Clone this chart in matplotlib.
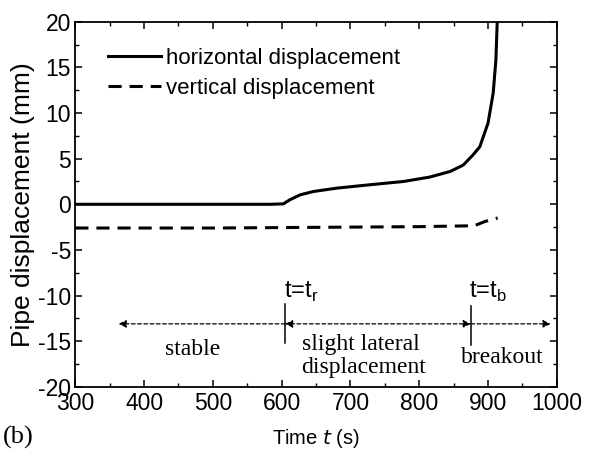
import numpy as np
import matplotlib
matplotlib.use("Agg")
import matplotlib.pyplot as plt
from matplotlib.ticker import MultipleLocator

# Horizontal displacement
t_h = [300, 400, 500, 583, 602.5, 612, 627, 646, 680, 728, 777, 815, 845, 864, 878, 888, 900, 907.5, 911.4, 913.3]
d_h = [0.0, 0.0, 0.0, 0.0, 0.05, 0.5, 1.04, 1.4, 1.77, 2.14, 2.5, 2.98, 3.6, 4.3, 5.4, 6.3, 8.9, 12.2, 15.8, 19.9]

# Vertical displacement
t_v = [300, 400, 500, 600, 700, 800, 880, 895, 914]
d_v = [-2.6, -2.6, -2.6, -2.55, -2.5, -2.45, -2.35, -1.9, -1.5]

t_r = 605
t_b = 875
arrow_y = -13.1

plt.rcParams["font.family"] = ["Liberation Sans", "DejaVu Sans"]
plt.rcParams["axes.unicode_minus"] = False

fig, ax = plt.subplots(figsize=(5.93, 4.54), dpi=100)
fig.subplots_adjust(left=0.127, right=0.939, top=0.952, bottom=0.148)

ax.plot(t_h, d_h, "k-", lw=2.2, label="horizontal displacement")
ax.plot(t_v, d_v, "k--", lw=2.2, dashes=(4.3, 2.6), label="vertical displacement")

ax.set_xlim(300, 1000)
ax.set_ylim(-20, 20)
ax.xaxis.set_major_locator(MultipleLocator(100))
ax.xaxis.set_minor_locator(MultipleLocator(50))
ax.yaxis.set_major_locator(MultipleLocator(5))
ax.yaxis.set_minor_locator(MultipleLocator(2.5))
ax.tick_params(which="both", direction="in", top=True, right=True, labelsize=16.5)
ax.tick_params(which="major", length=5, width=1.1)
ax.tick_params(which="minor", length=3, width=1)
ax.tick_params(axis="y", pad=3)
for s in ax.spines.values():
    s.set_linewidth(1.3)

ax.set_ylabel("Pipe displacement (mm)", fontsize=19, labelpad=2)
ax.set_xlabel("Time $t$ (s)", fontsize=14.5, labelpad=9)

leg = ax.legend(loc="upper left", bbox_to_anchor=(0.04, 0.965), frameon=False,
                fontsize=16, handlelength=2.4, handletextpad=0.2, labelspacing=0.4,
                borderaxespad=0.2)

# stage markers and arrows
serif = ["Liberation Serif", "DejaVu Serif"]
ax.plot([t_r, t_r], [-10.9, -15.2], "k-", lw=1.1)
ax.plot([t_b, t_b], [-11.1, -15.4], "k-", lw=1.1)
dash = (0, (3, 2))
ax.annotate("", xy=(363, arrow_y), xytext=(t_r, arrow_y),
            arrowprops=dict(arrowstyle="-|>", linestyle=dash, lw=0.9, color="k",
                            mutation_scale=11, shrinkA=0, shrinkB=0))
ax.annotate("", xy=(t_r, arrow_y), xytext=(t_b, arrow_y),
            arrowprops=dict(arrowstyle="<|-|>", linestyle=dash, lw=0.9, color="k",
                            mutation_scale=11, shrinkA=0, shrinkB=0))
ax.annotate("", xy=(991, arrow_y), xytext=(t_b, arrow_y),
            arrowprops=dict(arrowstyle="-|>", linestyle=dash, lw=0.9, color="k",
                            mutation_scale=11, shrinkA=0, shrinkB=0))

ax.text(t_r - 2, -10.9, "t=t$_\\mathregular{r}$", fontsize=17, va="bottom")
ax.text(t_b - 2, -10.9, "t=t$_\\mathregular{b}$", fontsize=17, va="bottom")
ax.text(470, -15.9, "stable", fontsize=17, family=serif, ha="center", va="center")
ax.text(629, -16.6, "slight lateral\ndisplacement", fontsize=17, family=serif,
        ha="left", va="center", linespacing=1.1)
ax.text(861, -16.8, "breakout", fontsize=17, family=serif, ha="left", va="center")

fig.text(0.005, 0.022, "(b)", fontsize=19, family=serif)

fig.savefig("out.png", dpi=100)
